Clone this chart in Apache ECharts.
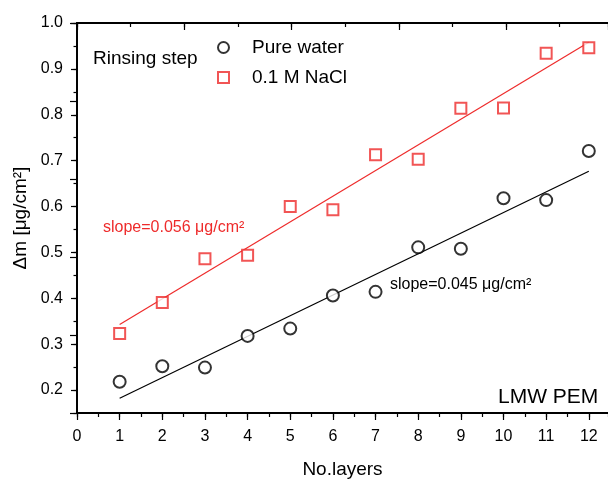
<!DOCTYPE html>
<html>
<head>
<meta charset="utf-8">
<script src="https://cdn.jsdelivr.net/npm/echarts@6/dist/echarts.min.js"></script>
<style>html,body{margin:0;padding:0;background:#fff}#c{width:608px;height:484px}</style>
</head>
<body>
<div id="c"></div>
<script>
var layers = [1, 2, 3, 4, 5, 6, 7, 8, 9, 10, 11, 12];
var pureWater = [0.218, 0.252, 0.249, 0.318, 0.334, 0.406, 0.414, 0.511, 0.508, 0.618, 0.614, 0.721];
var nacl = [0.323, 0.391, 0.486, 0.494, 0.600, 0.593, 0.713, 0.703, 0.814, 0.815, 0.934, 0.946];
var fitX = [1, 12];
var fitWater = [0.182, 0.677];
var fitNacl = [0.343, 0.958];
var seriesNames = ['Pure water', '0.1 M NaCl'];

var FONT = 'Liberation Sans, Arial, Helvetica, sans-serif';
var RED = '#ee2b2b';
var AX = { lineStyle: { color: '#000', width: 1.8 } };

function pairs(xs, ys) { return xs.map(function (x, i) { return [x, ys[i]]; }); }

var chart = echarts.init(document.getElementById('c'), null, { renderer: 'canvas' });
chart.setOption({
  animation: false,
  backgroundColor: '#fff',
  textStyle: { fontFamily: FONT },
  grid: { left: 77, top: 23, width: 535, height: 397, containLabel: false },
  legend: {
    orient: 'vertical', left: 212, top: 33,
    data: seriesNames,
    itemWidth: 11, itemHeight: 11, itemGap: 11,
    itemStyle: { borderWidth: 1 },
    textStyle: { fontFamily: FONT, fontSize: 19, color: '#000', padding: [0, 0, 0, 18], lineHeight: 19 }
  },
  xAxis: [
    { type: 'value', position: 'bottom', min: 0, max: 12.45, interval: 1,
      name: 'No.layers', nameLocation: 'middle', nameGap: 47,
      nameTextStyle: { fontFamily: FONT, fontSize: 19, color: '#000' },
      axisLine: AX, axisTick: { length: 7, lineStyle: { color: '#000', width: 1.2 } },
      axisLabel: { fontFamily: FONT, fontSize: 16, color: '#000', margin: 16, showMaxLabel: false },
      splitLine: { show: false } },
    { type: 'value', position: 'bottom', min: 0, max: 12.45, interval: 0.5,
      axisLine: { show: false }, axisTick: { length: 4, lineStyle: { color: '#000', width: 1.2 } },
      axisLabel: { show: false }, splitLine: { show: false } },
    { type: 'value', position: 'top', min: 0, max: 4.95, interval: 1,
      axisLine: AX, axisTick: { inside: true, length: 7, lineStyle: { color: '#000', width: 1.2 } },
      axisLabel: { show: false }, splitLine: { show: false } },
    { type: 'value', position: 'top', min: 0, max: 4.95, interval: 0.5,
      axisLine: { show: false }, axisTick: { inside: true, length: 4, lineStyle: { color: '#000', width: 1.2 } },
      axisLabel: { show: false }, splitLine: { show: false } }
  ],
  yAxis: [
    { type: 'value', position: 'left', min: 0.15, max: 1.0, splitNumber: 8, minInterval: 0.1, maxInterval: 0.1,
      name: 'Δm [μg/cm²]', nameLocation: 'middle', nameGap: 41,
      nameTextStyle: { fontFamily: FONT, fontSize: 19, color: '#000' },
      axisLine: AX, axisTick: { length: 6, lineStyle: { color: '#000', width: 1.2 } },
      axisLabel: { fontFamily: FONT, fontSize: 16, color: '#000', margin: 14, showMinLabel: false,
        formatter: function (v) { return v.toFixed(1); } },
      splitLine: { show: false } },
    { type: 'value', position: 'left', min: 0.15, max: 1.0, interval: 0.05,
      axisLine: { show: false }, axisTick: { length: 3.5, lineStyle: { color: '#000', width: 1.2 } },
      axisLabel: { show: false }, splitLine: { show: false } },
    { type: 'value', position: 'right', min: 0, max: 5, interval: 1,
      axisLine: AX, axisTick: { inside: true, length: 7, lineStyle: { color: '#000', width: 1.2 } },
      axisLabel: { show: false }, splitLine: { show: false } }
  ],
  series: [
    { name: 'fitWater', type: 'line', data: pairs(fitX, fitWater), showSymbol: false, silent: true,
      lineStyle: { color: '#000', width: 1.2 }, z: 2 },
    { name: 'fitNacl', type: 'line', data: pairs(fitX, fitNacl), showSymbol: false, silent: true,
      lineStyle: { color: RED, width: 1.2 }, z: 2 },
    { name: seriesNames[0], type: 'scatter', data: pairs(layers, pureWater), symbol: 'emptyCircle', symbolSize: 12,
      itemStyle: { color: '#000', borderColor: '#000', borderWidth: 1 }, z: 3 },
    { name: seriesNames[1], type: 'scatter', data: pairs(layers, nacl), symbol: 'emptyRect', symbolSize: 11,
      itemStyle: { color: RED, borderColor: RED, borderWidth: 1 }, z: 3 }
  ],
  graphic: [
    { type: 'text', left: 93, top: 49, style: { text: 'Rinsing step', font: '19px ' + FONT, fill: '#000' } },
    { type: 'text', left: 103, top: 220, style: { text: 'slope=0.056 μg/cm²', font: '16px ' + FONT, fill: RED } },
    { type: 'text', left: 390, top: 277, style: { text: 'slope=0.045 μg/cm²', font: '16px ' + FONT, fill: '#000' } },
    { type: 'text', left: 498, top: 387, style: { text: 'LMW PEM', font: '21px ' + FONT, fill: '#000' } }
  ]
});
</script>
</body>
</html>
